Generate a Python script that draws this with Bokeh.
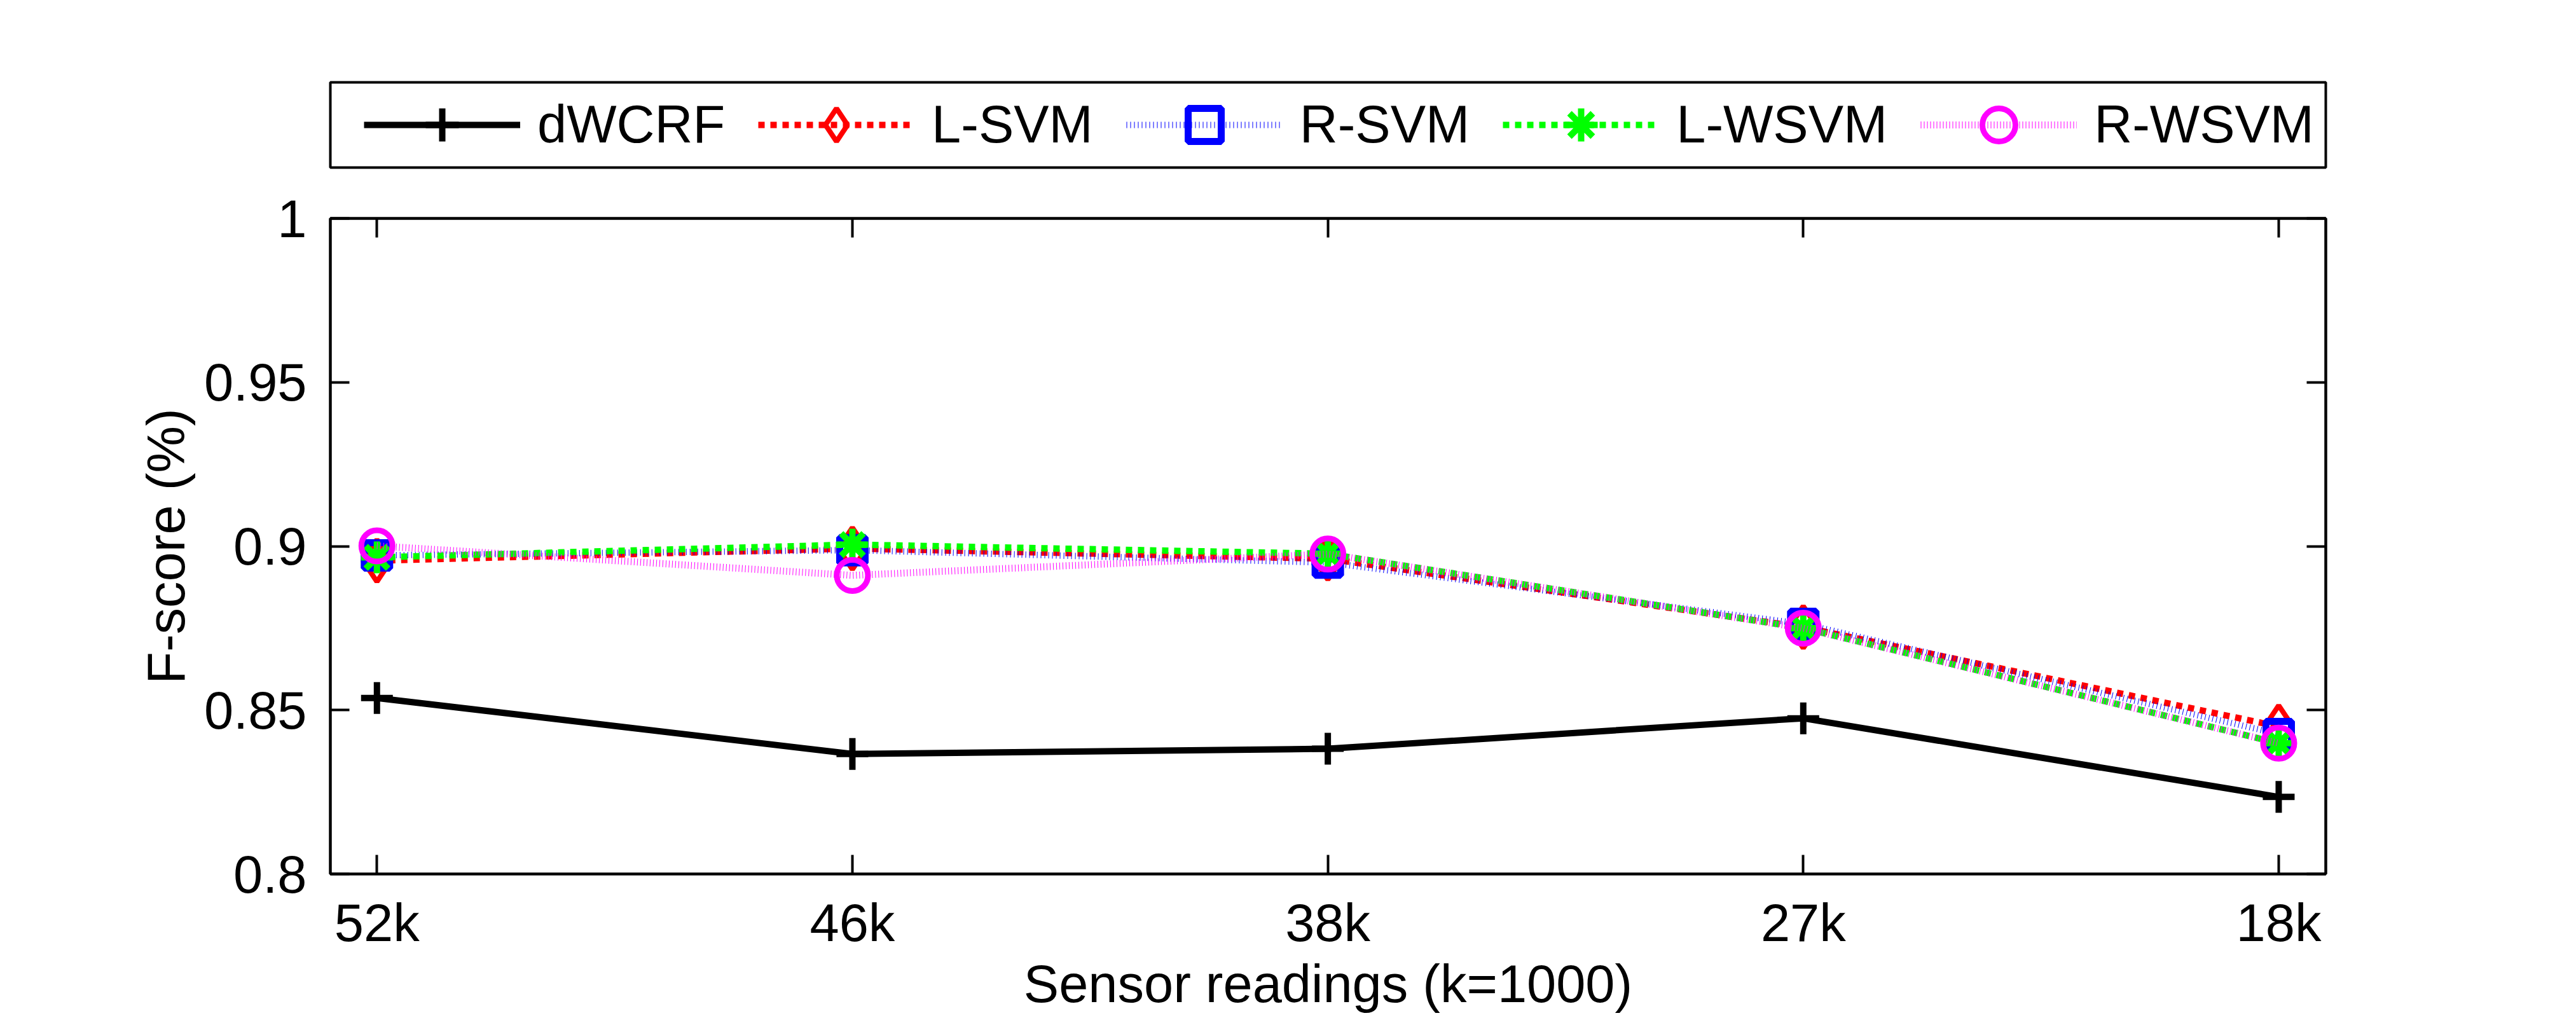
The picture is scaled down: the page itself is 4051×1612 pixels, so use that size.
from bokeh.plotting import figure
from bokeh.models import (Range1d, FixedTicker, LinearAxis, Legend, LegendItem)
from bokeh.layouts import column
from bokeh.embed import file_html
from bokeh.resources import INLINE

# ---- data ----
categories = ["52k", "46k", "38k", "27k", "18k"]
x_pos = [0, 1, 2, 3, 4]
dwcrf = [0.8537, 0.8366, 0.8382, 0.8475, 0.8235]
l_svm = [0.8956, 0.8993, 0.8962, 0.8753, 0.8450]
r_svm = [0.8972, 0.8988, 0.8950, 0.8763, 0.8427]
l_wsvm = [0.8966, 0.9005, 0.8977, 0.8750, 0.8399]
r_wsvm = [0.9001, 0.8911, 0.8976, 0.8750, 0.8399]
series_names = ["dWCRF", "L-SVM", "R-SVM", "L-WSVM", "R-WSVM"]
y_ticks = [0.8, 0.85, 0.9, 0.95, 1.0]
y_tick_labels = ["0.8", "0.85", "0.9", "0.95", "1"]

FONT = "Liberation Sans"
FS = "83px"
W = 4035
LEG_H = 275

styles = [
    dict(data=dwcrf, color="black", lw=10, dash="solid", marker="cross", size=50, mlw=10),
    dict(data=l_svm, color="#FF0000", lw=10, dash="10 9", marker="diamond", size=66, mlw=8),
    dict(data=r_svm, color="#0000FF", lw=10, dash="1 5", marker="square", size=40, mlw=11),
    dict(data=l_wsvm, color="#00FF00", lw=10, dash="10 9", marker="asterisk", size=50, mlw=10),
    dict(data=r_wsvm, color="#FF00FF", lw=11, dash="1 4", marker="circle", size=49, mlw=9),
]

def add_series(fig):
    out = []
    for st in styles:
        l = fig.line(x_pos, st["data"], line_color=st["color"], line_width=st["lw"],
                     line_dash=st["dash"])
        m = fig.scatter(x_pos, st["data"], marker=st["marker"], size=st["size"],
                        line_color=st["color"], line_width=st["mlw"], fill_color=None)
        out.append((l, m))
    return out

# ---------------- main plot ----------------
p = figure(width=W, height=1596 - LEG_H, output_backend="svg", toolbar_location=None,
           x_range=Range1d(-0.098, 4.099), y_range=Range1d(0.8, 1.0),
           min_border_left=519, min_border_right=378, min_border_top=343 - LEG_H,
           min_border_bottom=217)
p.background_fill_color = "white"
p.border_fill_color = "white"
p.xgrid.visible = False
p.ygrid.visible = False
p.outline_line_color = "black"
p.outline_line_width = 4

def style_axis(ax, ticks, labels, show_labels=True):
    ax.ticker = FixedTicker(ticks=ticks)
    if show_labels:
        ax.major_label_overrides = {t: l for t, l in zip(ticks, labels)}
        ax.major_label_text_font_size = FS
    else:
        ax.major_label_overrides = {t: "" for t in ticks}
        ax.major_label_text_font_size = "0px"
        ax.major_label_standoff = 0
    ax.major_tick_in = 30
    ax.major_tick_out = 0
    ax.major_tick_line_width = 4
    ax.major_tick_line_color = "black"
    ax.minor_tick_line_color = None
    ax.axis_line_color = "black"
    ax.axis_line_width = 4
    ax.major_label_text_font = FONT
    ax.major_label_text_color = "black"
    ax.axis_label_text_font = FONT
    ax.axis_label_text_font_size = FS
    ax.axis_label_text_font_style = "normal"
    ax.axis_label_text_color = "black"

xa = p.xaxis[0]
style_axis(xa, x_pos, categories)
xa.axis_label = "Sensor readings (k=1000)"
xa.major_label_standoff = 30
xa.axis_label_standoff = 0

ya = p.yaxis[0]
style_axis(ya, y_ticks, y_tick_labels)
ya.axis_label = "F-score (%)"
ya.major_label_standoff = 37
ya.axis_label_standoff = 10

top_ax = LinearAxis()
style_axis(top_ax, x_pos, categories, show_labels=False)
p.add_layout(top_ax, "above")
right_ax = LinearAxis()
style_axis(right_ax, y_ticks, y_tick_labels, show_labels=False)
p.add_layout(right_ax, "right")

add_series(p)

# ---------------- legend strip (its frame is the legend box) ----------------
lf = figure(width=W, height=LEG_H, output_backend="svg", toolbar_location=None,
            x_axis_type=None, y_axis_type=None,
            x_range=Range1d(100, 101), y_range=Range1d(100, 101),
            min_border_left=513, min_border_right=W - 3660, min_border_top=129,
            min_border_bottom=LEG_H - 263)
lf.xgrid.visible = False
lf.ygrid.visible = False
lf.outline_line_color = "black"
lf.outline_line_width = 4
lf.background_fill_color = "white"
lf.border_fill_color = "white"

pairs = add_series(lf)
items = [LegendItem(label=name, renderers=[l, m]) for name, (l, m) in zip(series_names, pairs)]
legend = Legend(items=items, orientation="horizontal", location=(53, 2),
                glyph_width=246, glyph_height=130, label_standoff=27, spacing=52,
                padding=0, margin=0,
                label_text_font=FONT, label_text_font_size=FS, label_text_color="black",
                border_line_color=None, background_fill_alpha=0.0)
lf.add_layout(legend, "center")

layout = column(lf, p, spacing=0)
open("out.html", "w").write(file_html(layout, INLINE))
